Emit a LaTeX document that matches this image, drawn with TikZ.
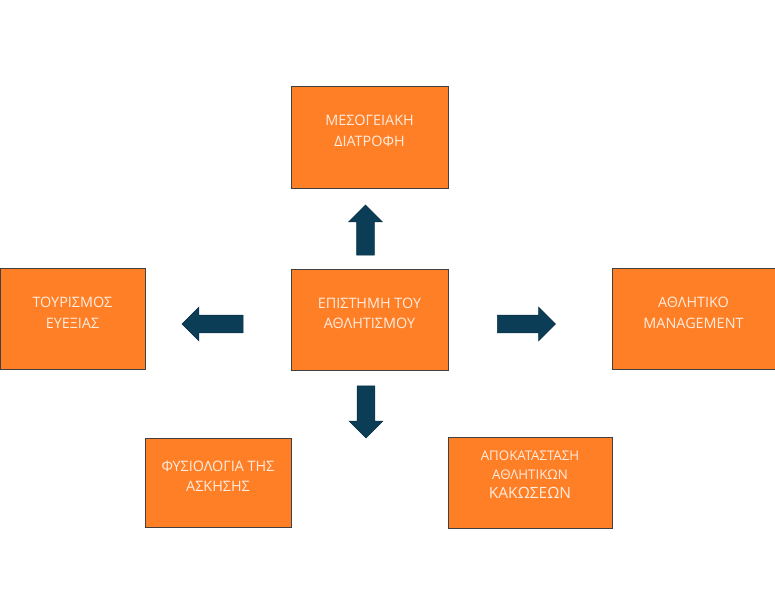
\documentclass[tikz,border=0pt]{standalone}
\usepackage{fontspec}
\setmainfont{Open Sans}
\usetikzlibrary{shapes.arrows}

\definecolor{boxorange}{RGB}{255,127,39}
\definecolor{boxtext}{RGB}{255,236,222}
\definecolor{arrowblue}{RGB}{12,61,86}

\tikzset{
  box/.style={rectangle,draw=black!75,line width=0.8pt,fill=boxorange,inner sep=0pt},
  every label/.style={text=boxtext,align=center,inner sep=0pt,
    font=\fontsize{14.4}{20.5}\selectfont},
  blockarrow/.style={single arrow,draw=arrowblue!80!black,line width=0.6pt,fill=arrowblue,
    inner xsep=0pt,inner ysep=8.5pt,single arrow head extend=8pt}
}

\begin{document}
\begin{tikzpicture}[x=1pt,y=-1pt]
      \useasboundingbox (0,0) rectangle (775,614);
      \node[box,minimum width=157pt,minimum height=102pt,
        label={[yshift=6pt]center:ΜΕΣΟΓΕΙΑΚΗ\\ΔΙΑΤΡΟΦΗ}] (1) at (369.5,137) {};
      \node[box,minimum width=157pt,minimum height=101pt,
        label={[yshift=6pt]center:ΕΠΙΣΤΗΜΗ ΤΟΥ\\ΑΘΛΗΤΙΣΜΟΥ}] (2) at (369.5,319.5) {};
      \node[box,minimum width=145pt,minimum height=101pt,
        label={[yshift=6pt]center:ΤΟΥΡΙΣΜΟΣ\\ΕΥΕΞΙΑΣ}] (3) at (72.5,319) {};
      \node[box,minimum width=163pt,minimum height=101pt,
        label={[yshift=6pt]center:ΑΘΛΗΤΙΚΟ\\MANAGEMENT}] (4) at (693.5,319) {};
      \node[box,minimum width=146pt,minimum height=89pt,
        label={[yshift=6pt]center:ΦΥΣΙΟΛΟΓΙΑ ΤΗΣ\\ΑΣΚΗΣΗΣ}] (5) at (218,482.5) {};
      \node[box,minimum width=164pt,minimum height=91pt,
        label={[yshift=8pt,font=\fontsize{13.3}{19}\selectfont]center:ΑΠΟΚΑΤΑΣΤΑΣΗ\\ΑΘΛΗΤΙΚΩΝ\\\fontsize{15.5}{20}\selectfont ΚΑΚΩΣΕΩΝ}] (6) at (530,482.5) {};
      \begin{scope}[every node/.style={blockarrow}]
        \node[minimum height=50pt,rotate=90] (a1) at (365.5,234.5) {};
        \node[minimum height=52pt,rotate=270] (a2) at (366,407.5) {};
        \node[minimum height=61pt,rotate=180] (a3) at (217,324) {};
        \node[minimum height=58pt] (a4) at (522,324) {};
      \end{scope}
    \end{tikzpicture}
\end{document}
